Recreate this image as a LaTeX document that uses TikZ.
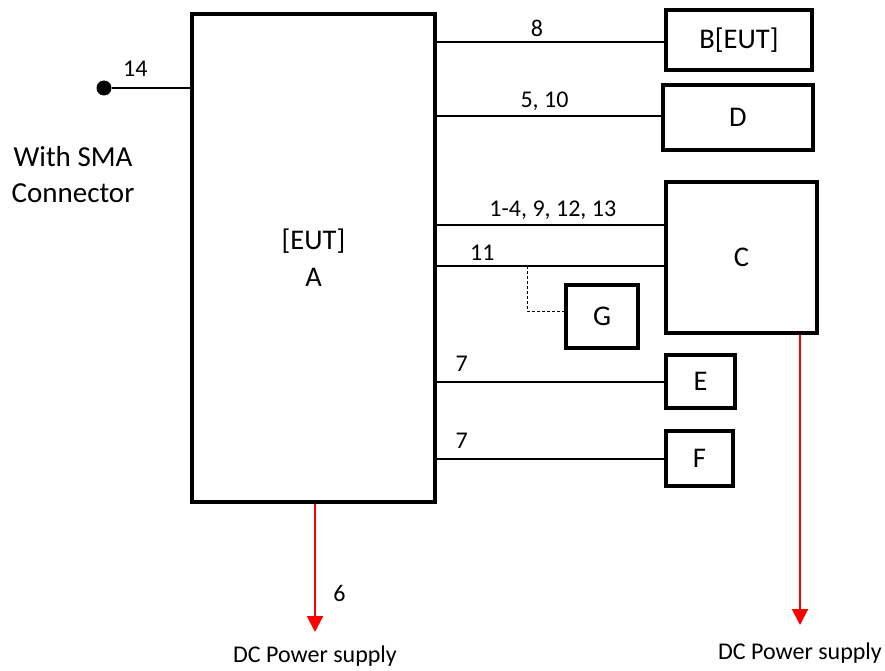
\documentclass[tikz,border=0pt]{standalone}
\usepackage{fontspec}
\setmainfont{Carlito}
\usepackage{tikz}
\usetikzlibrary{positioning, calc, arrows.meta}

\begin{document}
\begin{tikzpicture}[x=1pt, y=-1pt,
        unit/.style={rectangle, draw=black, line width=3.5pt, align=center, font=\fontsize{28.5}{37}\selectfont},
        wire/.style={line width=2pt},
        tap/.style={line width=1pt, dash pattern=on 3pt off 2pt},
        power/.style={draw=red, line width=2pt, -{Triangle[width=16pt, length=16pt]}},
        lbl/.style={font=\fontsize{24}{28}\selectfont}
    ]
        \useasboundingbox (0,0) rectangle (885,671);

        % Units
        \node[unit, minimum width=243pt, minimum height=488pt] (a) at (313.5,258) {[EUT]\\A};
        \node[unit, minimum width=146pt, minimum height=60pt] (b) at (739,40) {B[EUT]};
        \node[unit, minimum width=150pt, minimum height=65pt] (d) at (738,117.5) {D};
        \node[unit, minimum width=151pt, minimum height=151pt] (c) at (741.5,257.5) {C};
        \node[unit, minimum width=72pt, minimum height=63pt] (g) at (602,316.5) {G};
        \node[unit, minimum width=69pt, minimum height=53pt] (e) at (700.5,381.5) {E};
        \node[unit, minimum width=67pt, minimum height=55pt] (f) at (699.5,458.5) {F};

        % SMA port
        \node[circle, fill=black, inner sep=0pt, minimum size=15pt] (sma) at (104,88) {};
        \node[align=center, font=\fontsize{29}{36}\selectfont] (smatxt) at (73,175) {With SMA\\Connector};
        \draw[wire] (sma) -- (a.west |- sma) node[lbl, pos=0.3, above=7pt] {14};

        % Cables
        \draw[wire] (a.east |- 0,42) -- (b.west |- 0,42) node[lbl, pos=0.44, above=1pt] {8};
        \draw[wire] (a.east |- 0,116) -- (d.west |- 0,116) node[lbl, pos=0.48, above=1pt] {5, 10};
        \draw[wire] (a.east |- 0,225) -- (c.west |- 0,225) node[lbl, pos=0.51, above=1pt] {1-4, 9, 12, 13};
        \draw[wire] (a.east |- 0,266) -- (c.west |- 0,266) node[lbl, pos=0.2, above=1pt] {11};
        \draw[wire] (a.east |- e.west) -- (e.west) node[lbl, pos=0.11, above=6pt] {7};
        \draw[wire] (a.east |- f.west) -- (f.west) node[lbl, pos=0.11, above=6pt] {7};

        % Tap to G
        \coordinate (tap11) at (527,266);
        \draw[tap] (tap11) |- (g.west |- 0,311);

        % Power supplies
        \coordinate (psa) at (315,632);
        \coordinate (psc) at (800,625);
        \draw[power] (a.south -| psa) -- (psa) node[lbl, pos=0.7, right=14pt] {6};
        \draw[power] (c.south -| psc) -- (psc);
        \node[lbl, below=10pt of psa] (psatxt) {DC Power supply};
        \node[lbl, below=14pt of psc] (psctxt) {DC Power supply};
    \end{tikzpicture}
\end{document}
